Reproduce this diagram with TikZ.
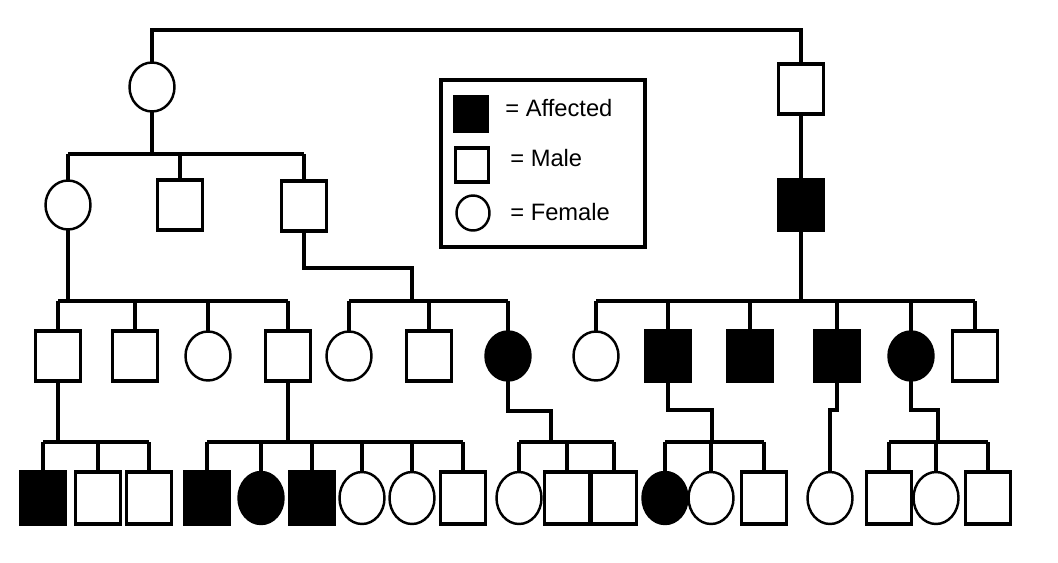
\documentclass[tikz,border=0pt]{standalone}
\usepackage{fontspec}
\setmainfont{Liberation Sans}
\usepackage{tikz}
\usetikzlibrary{shapes.geometric}

\tikzset{
  kin/.style={line width=2pt},
  male/.style={draw, rectangle, line width=1.8pt, minimum width=0.9cm, minimum height=1cm, inner sep=0pt, outer sep=0pt},
  female/.style={draw, ellipse, line width=1.4pt, minimum width=0.9cm, minimum height=0.98cm, inner sep=0pt, outer sep=0pt},
  amale/.style={male, fill=black},
  afemale/.style={female, fill=black},
  keytext/.style={anchor=west, inner sep=0pt, font=\fontsize{13.5}{16}\selectfont},
}

\begin{document}
\begin{tikzpicture}[x=0.02cm, y=-0.02cm]
  \useasboundingbox (0,0) rectangle (1058,562);

  % Generation I
  \node[female] (g1f) at (152,87) {};
  \node[male] (g1m) at (801,89) {};
  \coordinate (mate) at (0,30);
  \draw[kin] (g1f.north) |- (g1m.north |- mate) -- (g1m.north);

  % Generation II
  \node[female] (g2a) at (68,205) {};
  \node[male] (g2b) at (180,205) {};
  \node[male] (g2c) at (304,206) {};
  \node[amale] (g2d) at (801,205) {};
  \coordinate (s2) at (0,154);
  \draw[kin] (g1f.south) -- (g1f.south |- s2);
  \draw[kin] (g2a.north |- s2) -- (g2c.north |- s2);
  \foreach \c in {g2a,g2b,g2c} \draw[kin] (\c.north |- s2) -- (\c.north);
  \draw[kin] (g1m.south) -- (g2d.north);

  % Generation III
  \foreach \n/\x/\s in {g3a/58/male, g3b/135/male, g3c/208/female, g3d/288/male,
      g3e/349/female, g3f/429/male, g3g/508/afemale, g3h/596/female, g3i/668/amale,
      g3j/750/amale, g3k/837/amale, g3l/911/afemale, g3m/975/male}
    \node[\s] (\n) at (\x,356) {};
  \coordinate (s3) at (0,301);
  \coordinate (j3b) at (412,268);
  \draw[kin] (g2a.south) -- (g2a.south |- s3);
  \draw[kin] (g2c.south) |- (j3b) -- (j3b |- s3);
  \draw[kin] (g2d.south) -- (g2d.south |- s3);
  \draw[kin] (g3a.north |- s3) -- (g3d.north |- s3);
  \draw[kin] (g3e.north |- s3) -- (g3g.north |- s3);
  \draw[kin] (g3h.north |- s3) -- (g3m.north |- s3);
  \foreach \c in {g3a,g3b,g3c,g3d,g3e,g3f,g3g,g3h,g3i,g3j,g3k,g3l,g3m}
    \draw[kin] (\c.north |- s3) -- (\c.north);

  % Generation IV
  \foreach \n/\x/\s in {g4a/43/amale, g4b/98/male, g4c/149/male, g4d/207/amale,
      g4e/261/afemale, g4f/312/amale, g4g/362/female, g4h/412/female, g4i/463/male,
      g4j/519/female, g4k/567/male, g4l/614/male, g4m/665/afemale, g4n/711/female,
      g4o/764/male, g4p/830/female, g4q/889/male, g4r/936/female, g4s/988/male}
    \node[\s, minimum height=1.04cm] (\n) at (\x,498) {};
  \coordinate (s4) at (0,442);
  \coordinate (j4c) at (551,411);
  \coordinate (j4d) at (712,410);
  \coordinate (j4e) at (830,410);
  \coordinate (j4f) at (938,410);
  \draw[kin] (g3a.south) -- (g3a.south |- s4);
  \draw[kin] (g3d.south) -- (g3d.south |- s4);
  \draw[kin] (g3g.south) |- (j4c) -- (j4c |- s4);
  \draw[kin] (g3i.south) |- (j4d) -- (j4d |- s4);
  \draw[kin] (g3k.south) |- (j4e) -- (g4p.north);
  \draw[kin] (g3l.south) |- (j4f) -- (j4f |- s4);
  \draw[kin] (g4a.north |- s4) -- (g4c.north |- s4);
  \draw[kin] (g4d.north |- s4) -- (g4i.north |- s4);
  \draw[kin] (g4j.north |- s4) -- (g4l.north |- s4);
  \draw[kin] (g4m.north |- s4) -- (g4o.north |- s4);
  \draw[kin] (g4q.north |- s4) -- (g4s.north |- s4);
  \foreach \c in {g4a,g4b,g4c,g4d,g4e,g4f,g4g,g4h,g4i,g4j,g4k,g4l,g4m,g4n,g4o,g4q,g4r,g4s}
    \draw[kin] (\c.north |- s4) -- (\c.north);

  % Key
  \draw[line width=2.2pt] (441,80) rectangle (645,247);
  \node[amale, minimum width=0.64cm, minimum height=0.68cm] (keyaff) at (471,114) {};
  \node[male, minimum width=0.66cm, minimum height=0.68cm] (keymale) at (472,165) {};
  \node[female, minimum width=0.66cm, minimum height=0.7cm] (keyfem) at (473,213) {};
  \node[keytext] (keyafftxt) at (505,108) {= Affected};
  \node[keytext] (keymaletxt) at (510,158) {= Male};
  \node[keytext] (keyfemtxt) at (510,212) {= Female};
\end{tikzpicture}
\end{document}
